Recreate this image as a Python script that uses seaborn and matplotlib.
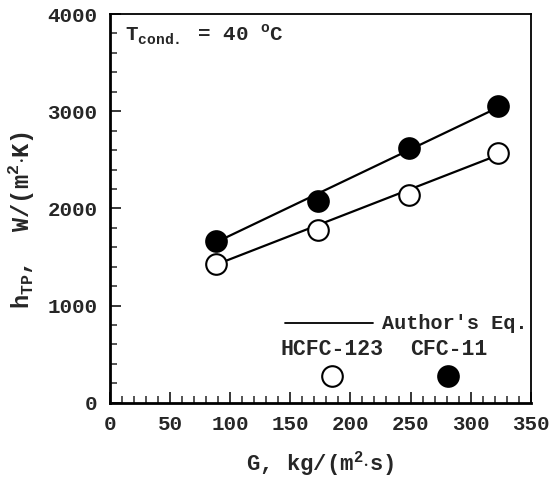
import numpy as np
import pandas as pd
import matplotlib
matplotlib.use("Agg")
import matplotlib.pyplot as plt
import seaborn as sns

# Data
G = [88, 173, 249, 323]
h_cfc11 = [1665, 2075, 2620, 3050]
h_hcfc123 = [1430, 1775, 2135, 2565]
eq_G = [88, 323]
eq_cfc11 = [1650, 3040]
eq_hcfc123 = [1420, 2550]

sns.set_theme(style="white")
plt.rcParams['font.family'] = ['Liberation Mono', 'DejaVu Sans']
plt.rcParams['font.weight'] = 'bold'
plt.rcParams['mathtext.fontset'] = 'custom'
plt.rcParams['mathtext.rm'] = 'Liberation Mono:bold'
plt.rcParams['mathtext.bf'] = 'Liberation Mono:bold'

fig = plt.figure(figsize=(5.6, 4.83), dpi=100)
ax = fig.add_axes([0.196, 0.166, 0.752, 0.805])

df_pts = pd.DataFrame({
    "G": G * 2,
    "h": h_cfc11 + h_hcfc123,
    "fluid": ["CFC-11"] * 4 + ["HCFC-123"] * 4,
})
df_eq = pd.DataFrame({
    "G": eq_G * 2,
    "h": eq_cfc11 + eq_hcfc123,
    "fluid": ["CFC-11"] * 2 + ["HCFC-123"] * 2,
})

sns.lineplot(data=df_eq, x="G", y="h", units="fluid", estimator=None,
             color="black", lw=1.6, ax=ax, legend=False)
sns.scatterplot(data=df_pts[df_pts.fluid == "CFC-11"], x="G", y="h", s=220,
                color="black", edgecolor="black", linewidth=1.5, ax=ax, zorder=3, legend=False)
sns.scatterplot(data=df_pts[df_pts.fluid == "HCFC-123"], x="G", y="h", s=220,
                facecolor="white", edgecolor="black", linewidth=1.5, ax=ax, zorder=3, legend=False)

ax.set_xlim(0, 350)
ax.set_ylim(0, 4000)
ax.set_xticks(np.arange(0, 351, 50))
ax.set_xticks(np.arange(0, 351, 10), minor=True)
ax.set_yticks(np.arange(0, 4001, 1000))
ax.set_yticks(np.arange(0, 4001, 200), minor=True)
ax.tick_params(axis='both', which='major', direction='in', length=8, width=1.3,
               labelsize=15, bottom=True, left=True, top=False, right=False)
ax.tick_params(axis='x', which='major', pad=9)
ax.tick_params(axis='y', which='major', pad=9)
ax.tick_params(axis='both', which='minor', direction='in', length=5, width=1.1,
               bottom=True, left=True, top=False, right=False)
for lab in ax.get_xticklabels() + ax.get_yticklabels():
    lab.set_fontweight('bold')

for s in ["left", "bottom"]:
    ax.spines[s].set_linewidth(2.0)
for s in ["top", "right"]:
    ax.spines[s].set_linewidth(1.3)
for s in ax.spines.values():
    s.set_color("black")

ax.set_xlabel(r"G, kg/(m$^{\mathbf{2}}$$\cdot$s)", fontsize=16, fontweight='bold', labelpad=11)
ax.set_ylabel(r"h$_{\mathbf{TP}}$,  W/(m$^{\mathbf{2}}$$\cdot$K)", fontsize=17, fontweight='bold')
ax.yaxis.set_label_coords(-0.175, 0.47)

ax.text(13, 3790, r"T$_{\mathbf{cond.}}$ = 40 $^{\mathbf{o}}$C", fontsize=15, fontweight='bold', va='center')

# legend drawn manually
ax.plot([146, 219], [820, 820], color="black", lw=1.3)
ax.text(347, 820, "Author's Eq.", fontsize=14.5, fontweight='bold', ha='right', va='center')
ax.text(185, 550, "HCFC-123", fontsize=15.5, fontweight='bold', ha='center', va='center')
ax.text(282, 550, "CFC-11", fontsize=15.5, fontweight='bold', ha='center', va='center')
ax.scatter([185], [280], s=220, facecolor="white", edgecolor="black", linewidth=1.5, zorder=3)
ax.scatter([281], [280], s=220, facecolor="black", edgecolor="black", linewidth=1.5, zorder=3)

fig.savefig("out.png", dpi=100)
